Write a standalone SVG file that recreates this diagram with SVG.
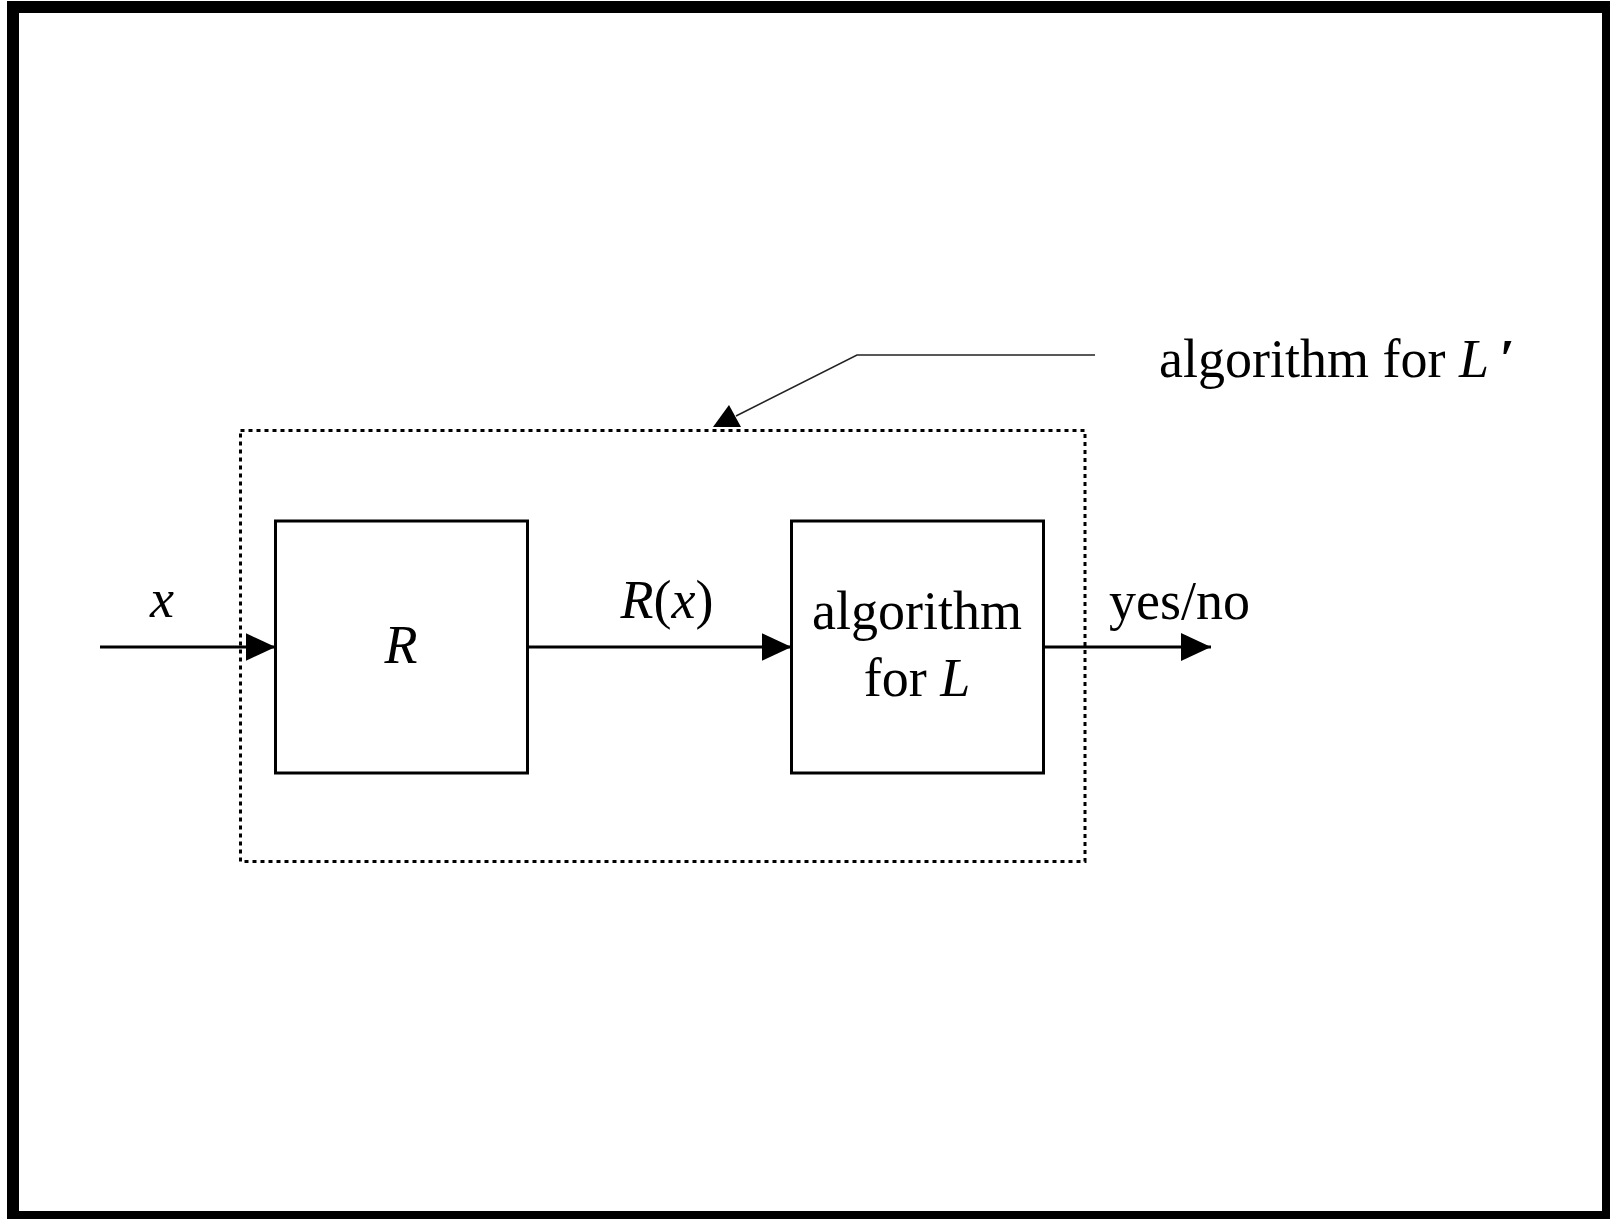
<svg xmlns="http://www.w3.org/2000/svg" width="1610" height="1219" viewBox="0 0 1610 1219">
<style>
.box{fill:#fff;stroke:#000;stroke-width:3}
.wire{stroke:#000;stroke-width:3;fill:none}
.lead{stroke:#222;stroke-width:1.5;fill:none}
.t{font-family:"Liberation Serif","Times New Roman",serif;font-size:54px;fill:#000}
.i{font-style:italic}
</style>
<defs>
<marker id="ah" viewBox="0 0 30 28" refX="30" refY="14" markerWidth="30" markerHeight="28" markerUnits="userSpaceOnUse" orient="auto">
<path d="M0,0 L30,14 L0,28 Z" fill="#000"/>
</marker>
</defs>
<rect x="0" y="0" width="1610" height="1219" fill="#fff"/>
<path d="M7,1 H1610 V1219 H7 Z M19,13 V1211 H1602 V13 Z" fill="#000" fill-rule="evenodd"/>
<g id="container">
<rect x="240.5" y="430.5" width="844.5" height="431" fill="none" stroke="#000" stroke-width="3" stroke-dasharray="4 4"/>
</g>
<g id="node-R">
<rect class="box" x="275.5" y="521" width="252" height="252"/>
<text class="t i" x="401" y="663" text-anchor="middle">R</text>
</g>
<g id="node-algL">
<rect class="box" x="791.5" y="521" width="252" height="252"/>
<text class="t" x="917" y="629" text-anchor="middle">algorithm</text>
<text class="t" x="917" y="696" text-anchor="middle">for <tspan class="i">L</tspan></text>
</g>
<g id="label-algLprime">
<text class="t" x="1159" y="377">algorithm for <tspan class="i">L</tspan><tspan class="i" font-weight="bold" dx="10">′</tspan></text>
</g>
<g id="connectors">
<line class="wire" x1="100" y1="647" x2="275.5" y2="647" marker-end="url(#ah)"/>
<line class="wire" x1="527.5" y1="647" x2="791.5" y2="647" marker-end="url(#ah)"/>
<line class="wire" x1="1043.5" y1="647" x2="1211" y2="647" marker-end="url(#ah)"/>
<polyline class="lead" points="1095,355 857,355 736,416"/>
<polygon points="713,427 741,427 729,405" fill="#000"/>
</g>
<g id="labels">
<text class="t i" x="162" y="617" text-anchor="middle">x</text>
<text class="t" x="667" y="618" text-anchor="middle"><tspan class="i">R</tspan>(<tspan class="i">x</tspan>)</text>
<text class="t" x="1109" y="619">yes/no</text>
</g>
</svg>
